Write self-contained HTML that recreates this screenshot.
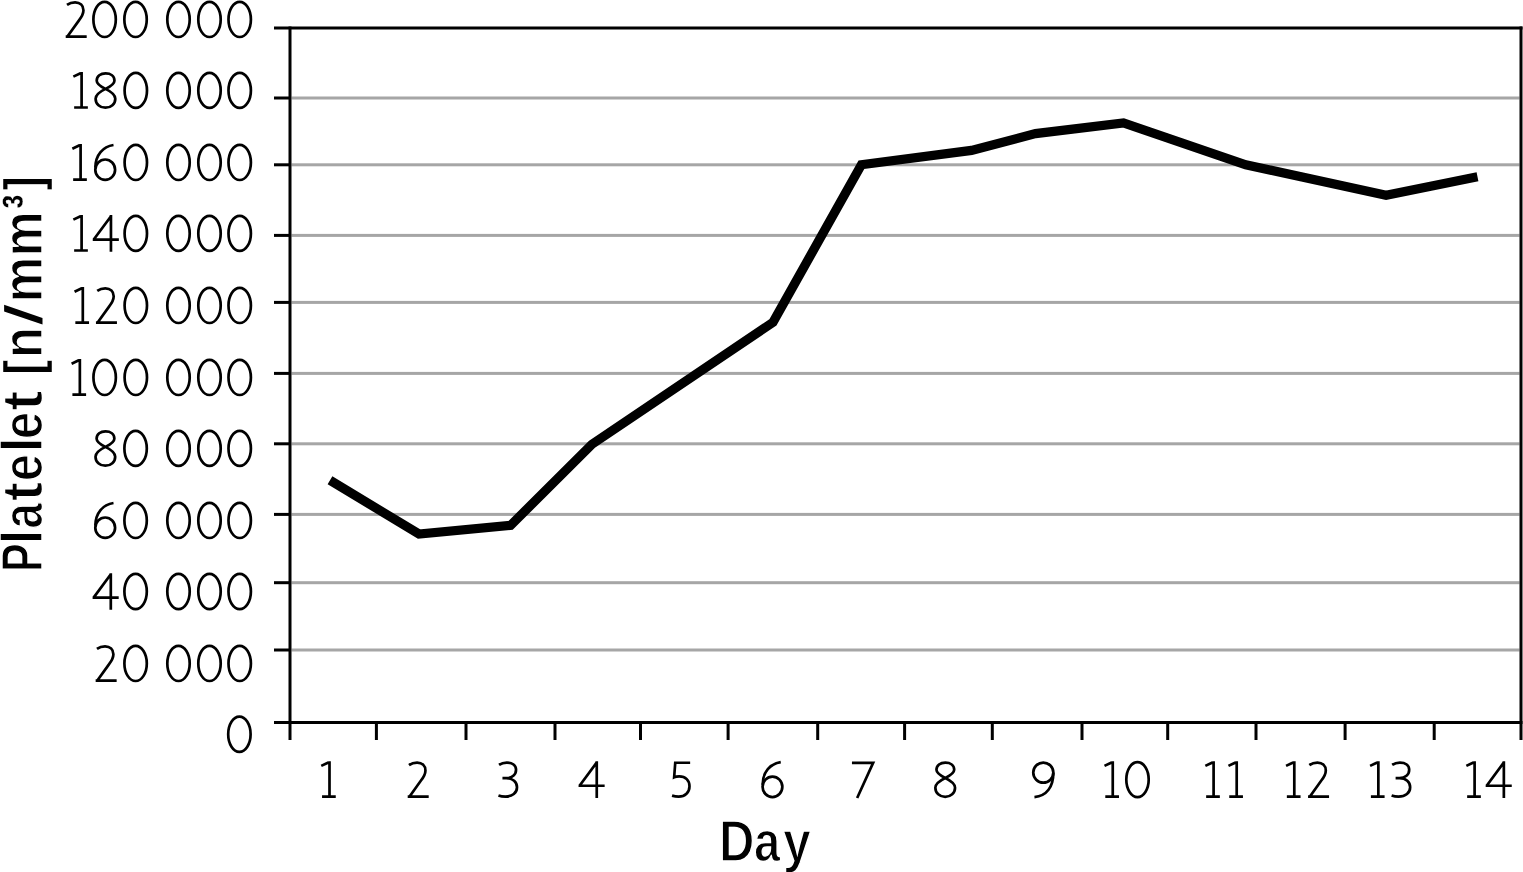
<!DOCTYPE html>
<html><head><meta charset="utf-8"><title>Platelet chart</title>
<style>html,body{margin:0;padding:0;background:#fff;width:1523px;height:872px;overflow:hidden}svg{display:block}</style>
</head><body>
<svg width="1523" height="872" viewBox="0 0 1523 872">
<rect x="291.5" y="96.50" width="1228" height="3.0" fill="#a6a6a6"/>
<rect x="291.5" y="163.30" width="1228" height="3.0" fill="#a6a6a6"/>
<rect x="291.5" y="233.90" width="1228" height="3.0" fill="#a6a6a6"/>
<rect x="291.5" y="300.90" width="1228" height="3.0" fill="#a6a6a6"/>
<rect x="291.5" y="371.90" width="1228" height="3.0" fill="#a6a6a6"/>
<rect x="291.5" y="442.30" width="1228" height="3.0" fill="#a6a6a6"/>
<rect x="291.5" y="512.90" width="1228" height="3.0" fill="#a6a6a6"/>
<rect x="291.5" y="581.20" width="1228" height="3.0" fill="#a6a6a6"/>
<rect x="291.5" y="648.50" width="1228" height="3.0" fill="#a6a6a6"/>
<rect x="274" y="26.5" width="1248.5" height="3" fill="#000"/>
<rect x="274" y="721.0" width="1248.5" height="3" fill="#000"/>
<rect x="288.5" y="26.5" width="3" height="713.5" fill="#000"/>
<rect x="1519.5" y="26.5" width="3" height="713.5" fill="#000"/>
<rect x="274" y="96.50" width="16" height="3" fill="#000"/>
<rect x="274" y="163.30" width="16" height="3" fill="#000"/>
<rect x="274" y="233.90" width="16" height="3" fill="#000"/>
<rect x="274" y="300.90" width="16" height="3" fill="#000"/>
<rect x="274" y="371.90" width="16" height="3" fill="#000"/>
<rect x="274" y="442.30" width="16" height="3" fill="#000"/>
<rect x="274" y="512.90" width="16" height="3" fill="#000"/>
<rect x="274" y="581.20" width="16" height="3" fill="#000"/>
<rect x="274" y="648.50" width="16" height="3" fill="#000"/>
<rect x="374.90" y="722.5" width="3" height="17.5" fill="#000"/>
<rect x="464.50" y="722.5" width="3" height="17.5" fill="#000"/>
<rect x="553.50" y="722.5" width="3" height="17.5" fill="#000"/>
<rect x="639.00" y="722.5" width="3" height="17.5" fill="#000"/>
<rect x="726.60" y="722.5" width="3" height="17.5" fill="#000"/>
<rect x="816.20" y="722.5" width="3" height="17.5" fill="#000"/>
<rect x="903.10" y="722.5" width="3" height="17.5" fill="#000"/>
<rect x="990.80" y="722.5" width="3" height="17.5" fill="#000"/>
<rect x="1080.50" y="722.5" width="3" height="17.5" fill="#000"/>
<rect x="1166.20" y="722.5" width="3" height="17.5" fill="#000"/>
<rect x="1254.50" y="722.5" width="3" height="17.5" fill="#000"/>
<rect x="1343.60" y="722.5" width="3" height="17.5" fill="#000"/>
<rect x="1432.70" y="722.5" width="3" height="17.5" fill="#000"/>
<path d="M330.00,480.30 L419.00,534.00 L510.65,525.30 L592.00,444.30 L773.00,322.30 L861.40,164.65 L971.50,150.40 L1035.50,133.60 L1123.50,122.90 L1245.80,164.80 L1386.10,195.30 L1477.50,176.70" fill="none" stroke="#000" stroke-width="9.2" stroke-linejoin="miter" stroke-linecap="butt"/>
<g fill="none" stroke="#000" stroke-width="2.7" stroke-linecap="butt">
<g transform="translate(57.80,-4.90)"><path d="M9.2,9.8 C11.6,8.1 14.5,7.3 17.3,7.3 C22.3,7.3 25.65,10.5 25.65,15.2 C25.65,19.0 23.8,22.0 21.0,25.5 L9.6,41.45 M7.9,41.45 H28.9"/></g>
<g transform="translate(89.95,-4.90)"><ellipse cx="14.65" cy="24.35" rx="11.2" ry="17.55"/></g>
<g transform="translate(120.90,-4.90)"><ellipse cx="14.65" cy="24.35" rx="11.2" ry="17.55"/></g>
<g transform="translate(163.85,-4.90)"><ellipse cx="14.65" cy="24.35" rx="11.2" ry="17.55"/></g>
<g transform="translate(194.85,-4.90)"><ellipse cx="14.65" cy="24.35" rx="11.2" ry="17.55"/></g>
<g transform="translate(225.05,-4.90)"><ellipse cx="14.65" cy="24.35" rx="11.2" ry="17.55"/></g>
<g transform="translate(66.95,66.05)"><path d="M14.65,6.0 V42.7 M7.2,41.45 H20.9 M13.6,7.2 L6.4,10.6"/></g>
<g transform="translate(84.80,66.05)"><path d="M20.7,22.8 C14.2,19.6 11.9,17.6 11.9,14.6 C11.9,10.1 15.8,7.3 20.8,7.3 C25.8,7.3 29.65,10.1 29.65,14.6 C29.65,17.6 27.3,19.6 20.7,22.8 C14.1,26.0 10.8,28.6 10.8,32.6 C10.8,37.9 15.2,41.65 20.65,41.65 C26.1,41.65 30.5,37.9 30.5,32.6 C30.5,28.6 27.3,26.0 20.7,22.8 Z"/></g>
<g transform="translate(121.15,66.05)"><ellipse cx="14.65" cy="24.35" rx="11.2" ry="17.55"/></g>
<g transform="translate(163.85,66.05)"><ellipse cx="14.65" cy="24.35" rx="11.2" ry="17.55"/></g>
<g transform="translate(194.85,66.05)"><ellipse cx="14.65" cy="24.35" rx="11.2" ry="17.55"/></g>
<g transform="translate(225.05,66.05)"><ellipse cx="14.65" cy="24.35" rx="11.2" ry="17.55"/></g>
<g transform="translate(65.95,138.10)"><path d="M14.65,6.0 V42.7 M7.2,41.45 H20.9 M13.6,7.2 L6.4,10.6"/></g>
<g transform="translate(84.60,138.10)"><path d="M28.9,6.9 C18.5,8.5 10.8,16.5 10.8,29.5"/><ellipse cx="20.6" cy="31.6" rx="9.9" ry="10.2"/></g>
<g transform="translate(121.15,138.10)"><ellipse cx="14.65" cy="24.35" rx="11.2" ry="17.55"/></g>
<g transform="translate(163.85,138.10)"><ellipse cx="14.65" cy="24.35" rx="11.2" ry="17.55"/></g>
<g transform="translate(194.85,138.10)"><ellipse cx="14.65" cy="24.35" rx="11.2" ry="17.55"/></g>
<g transform="translate(225.05,138.10)"><ellipse cx="14.65" cy="24.35" rx="11.2" ry="17.55"/></g>
<g transform="translate(66.95,209.05)"><path d="M14.65,6.0 V42.7 M7.2,41.45 H20.9 M13.6,7.2 L6.4,10.6"/></g>
<g transform="translate(85.85,209.05)"><path d="M25.1,42.7 V6.0 M25.3,6.9 L7.9,30.5 M6.9,30.5 H33.0"/></g>
<g transform="translate(121.15,209.05)"><ellipse cx="14.65" cy="24.35" rx="11.2" ry="17.55"/></g>
<g transform="translate(163.85,209.05)"><ellipse cx="14.65" cy="24.35" rx="11.2" ry="17.55"/></g>
<g transform="translate(194.85,209.05)"><ellipse cx="14.65" cy="24.35" rx="11.2" ry="17.55"/></g>
<g transform="translate(225.05,209.05)"><ellipse cx="14.65" cy="24.35" rx="11.2" ry="17.55"/></g>
<g transform="translate(68.15,281.10)"><path d="M14.65,6.0 V42.7 M7.2,41.45 H20.9 M13.6,7.2 L6.4,10.6"/></g>
<g transform="translate(88.05,281.10)"><path d="M9.2,9.8 C11.6,8.1 14.5,7.3 17.3,7.3 C22.3,7.3 25.65,10.5 25.65,15.2 C25.65,19.0 23.8,22.0 21.0,25.5 L9.6,41.45 M7.9,41.45 H28.9"/></g>
<g transform="translate(121.15,281.10)"><ellipse cx="14.65" cy="24.35" rx="11.2" ry="17.55"/></g>
<g transform="translate(163.85,281.10)"><ellipse cx="14.65" cy="24.35" rx="11.2" ry="17.55"/></g>
<g transform="translate(194.85,281.10)"><ellipse cx="14.65" cy="24.35" rx="11.2" ry="17.55"/></g>
<g transform="translate(225.05,281.10)"><ellipse cx="14.65" cy="24.35" rx="11.2" ry="17.55"/></g>
<g transform="translate(65.20,353.10)"><path d="M14.65,6.0 V42.7 M7.2,41.45 H20.9 M13.6,7.2 L6.4,10.6"/></g>
<g transform="translate(90.00,353.10)"><ellipse cx="14.65" cy="24.35" rx="11.2" ry="17.55"/></g>
<g transform="translate(121.15,353.10)"><ellipse cx="14.65" cy="24.35" rx="11.2" ry="17.55"/></g>
<g transform="translate(163.85,353.10)"><ellipse cx="14.65" cy="24.35" rx="11.2" ry="17.55"/></g>
<g transform="translate(194.85,353.10)"><ellipse cx="14.65" cy="24.35" rx="11.2" ry="17.55"/></g>
<g transform="translate(225.05,353.10)"><ellipse cx="14.65" cy="24.35" rx="11.2" ry="17.55"/></g>
<g transform="translate(84.70,424.05)"><path d="M20.7,22.8 C14.2,19.6 11.9,17.6 11.9,14.6 C11.9,10.1 15.8,7.3 20.8,7.3 C25.8,7.3 29.65,10.1 29.65,14.6 C29.65,17.6 27.3,19.6 20.7,22.8 C14.1,26.0 10.8,28.6 10.8,32.6 C10.8,37.9 15.2,41.65 20.65,41.65 C26.1,41.65 30.5,37.9 30.5,32.6 C30.5,28.6 27.3,26.0 20.7,22.8 Z"/></g>
<g transform="translate(120.95,424.05)"><ellipse cx="14.65" cy="24.35" rx="11.2" ry="17.55"/></g>
<g transform="translate(163.85,424.05)"><ellipse cx="14.65" cy="24.35" rx="11.2" ry="17.55"/></g>
<g transform="translate(194.85,424.05)"><ellipse cx="14.65" cy="24.35" rx="11.2" ry="17.55"/></g>
<g transform="translate(225.05,424.05)"><ellipse cx="14.65" cy="24.35" rx="11.2" ry="17.55"/></g>
<g transform="translate(84.60,496.10)"><path d="M28.9,6.9 C18.5,8.5 10.8,16.5 10.8,29.5"/><ellipse cx="20.6" cy="31.6" rx="9.9" ry="10.2"/></g>
<g transform="translate(120.95,496.10)"><ellipse cx="14.65" cy="24.35" rx="11.2" ry="17.55"/></g>
<g transform="translate(163.85,496.10)"><ellipse cx="14.65" cy="24.35" rx="11.2" ry="17.55"/></g>
<g transform="translate(194.85,496.10)"><ellipse cx="14.65" cy="24.35" rx="11.2" ry="17.55"/></g>
<g transform="translate(225.05,496.10)"><ellipse cx="14.65" cy="24.35" rx="11.2" ry="17.55"/></g>
<g transform="translate(85.70,567.15)"><path d="M25.1,42.7 V6.0 M25.3,6.9 L7.9,30.5 M6.9,30.5 H33.0"/></g>
<g transform="translate(120.95,567.15)"><ellipse cx="14.65" cy="24.35" rx="11.2" ry="17.55"/></g>
<g transform="translate(163.85,567.15)"><ellipse cx="14.65" cy="24.35" rx="11.2" ry="17.55"/></g>
<g transform="translate(194.85,567.15)"><ellipse cx="14.65" cy="24.35" rx="11.2" ry="17.55"/></g>
<g transform="translate(225.05,567.15)"><ellipse cx="14.65" cy="24.35" rx="11.2" ry="17.55"/></g>
<g transform="translate(87.75,639.10)"><path d="M9.2,9.8 C11.6,8.1 14.5,7.3 17.3,7.3 C22.3,7.3 25.65,10.5 25.65,15.2 C25.65,19.0 23.8,22.0 21.0,25.5 L9.6,41.45 M7.9,41.45 H28.9"/></g>
<g transform="translate(120.95,639.10)"><ellipse cx="14.65" cy="24.35" rx="11.2" ry="17.55"/></g>
<g transform="translate(163.85,639.10)"><ellipse cx="14.65" cy="24.35" rx="11.2" ry="17.55"/></g>
<g transform="translate(194.85,639.10)"><ellipse cx="14.65" cy="24.35" rx="11.2" ry="17.55"/></g>
<g transform="translate(225.05,639.10)"><ellipse cx="14.65" cy="24.35" rx="11.2" ry="17.55"/></g>
<g transform="translate(224.75,709.90)"><ellipse cx="14.65" cy="24.35" rx="11.2" ry="17.55"/></g>
<g transform="translate(314.85,755.25)"><path d="M14.65,6.0 V42.7 M7.2,41.45 H20.9 M13.6,7.2 L6.4,10.6"/></g>
<g transform="translate(399.80,755.25)"><path d="M9.2,9.8 C11.6,8.1 14.5,7.3 17.3,7.3 C22.3,7.3 25.65,10.5 25.65,15.2 C25.65,19.0 23.8,22.0 21.0,25.5 L9.6,41.45 M7.9,41.45 H28.9"/></g>
<g transform="translate(487.85,755.25)"><path d="M11.2,9.6 C13.5,8.0 16.2,7.3 18.9,7.3 C24.5,7.3 28.2,10.2 28.2,14.6 C28.2,19.5 24.2,22.9 18.5,22.9 H14.6 M18.5,22.9 C25.0,22.9 29.15,26.8 29.15,32.0 C29.15,37.6 24.5,41.4 17.5,41.4 C15.0,41.4 12.6,41.0 10.6,40.3"/></g>
<g transform="translate(571.65,755.25)"><path d="M25.1,42.7 V6.0 M25.3,6.9 L7.9,30.5 M6.9,30.5 H33.0"/></g>
<g transform="translate(660.65,755.25)"><path d="M29.5,7.5 H14.6 L13.5,22.0 C15.1,21.3 16.6,21.1 18.6,21.1 C24.9,21.1 28.85,25.2 28.85,31.0 C28.85,37.2 24.4,41.4 18.0,41.4 C15.6,41.4 13.4,41.0 11.4,40.4" stroke-linejoin="miter"/></g>
<g transform="translate(751.85,755.25)"><path d="M28.9,6.9 C18.5,8.5 10.8,16.5 10.8,29.5"/><ellipse cx="20.6" cy="31.6" rx="9.9" ry="10.2"/></g>
<g transform="translate(842.75,755.25)"><path d="M9.2,7.6 H30.4 L14.4,42.7" stroke-linejoin="miter"/></g>
<g transform="translate(924.55,755.25)"><path d="M20.7,22.8 C14.2,19.6 11.9,17.6 11.9,14.6 C11.9,10.1 15.8,7.3 20.8,7.3 C25.8,7.3 29.65,10.1 29.65,14.6 C29.65,17.6 27.3,19.6 20.7,22.8 C14.1,26.0 10.8,28.6 10.8,32.6 C10.8,37.9 15.2,41.65 20.65,41.65 C26.1,41.65 30.5,37.9 30.5,32.6 C30.5,28.6 27.3,26.0 20.7,22.8 Z"/></g>
<g transform="translate(1023.25,755.25)"><ellipse cx="20.05" cy="17.35" rx="10.05" ry="10.05"/><path d="M30.1,17.5 C30.1,31.5 23.5,40.8 11.2,41.8"/></g>
<g transform="translate(1098.10,755.25)"><path d="M14.65,6.0 V42.7 M7.2,41.45 H20.9 M13.6,7.2 L6.4,10.6"/></g>
<g transform="translate(1122.85,755.25)"><ellipse cx="14.65" cy="24.35" rx="11.2" ry="17.55"/></g>
<g transform="translate(1198.95,755.25)"><path d="M14.65,6.0 V42.7 M7.2,41.45 H20.9 M13.6,7.2 L6.4,10.6"/></g>
<g transform="translate(1222.05,755.25)"><path d="M14.65,6.0 V42.7 M7.2,41.45 H20.9 M13.6,7.2 L6.4,10.6"/></g>
<g transform="translate(1279.65,755.25)"><path d="M14.65,6.0 V42.7 M7.2,41.45 H20.9 M13.6,7.2 L6.4,10.6"/></g>
<g transform="translate(1300.15,755.25)"><path d="M9.2,9.8 C11.6,8.1 14.5,7.3 17.3,7.3 C22.3,7.3 25.65,10.5 25.65,15.2 C25.65,19.0 23.8,22.0 21.0,25.5 L9.6,41.45 M7.9,41.45 H28.9"/></g>
<g transform="translate(1363.70,755.25)"><path d="M14.65,6.0 V42.7 M7.2,41.45 H20.9 M13.6,7.2 L6.4,10.6"/></g>
<g transform="translate(1381.00,755.25)"><path d="M11.2,9.6 C13.5,8.0 16.2,7.3 18.9,7.3 C24.5,7.3 28.2,10.2 28.2,14.6 C28.2,19.5 24.2,22.9 18.5,22.9 H14.6 M18.5,22.9 C25.0,22.9 29.15,26.8 29.15,32.0 C29.15,37.6 24.5,41.4 17.5,41.4 C15.0,41.4 12.6,41.0 10.6,40.3"/></g>
<g transform="translate(1459.95,755.25)"><path d="M14.65,6.0 V42.7 M7.2,41.45 H20.9 M13.6,7.2 L6.4,10.6"/></g>
<g transform="translate(1478.75,755.25)"><path d="M25.1,42.7 V6.0 M25.3,6.9 L7.9,30.5 M6.9,30.5 H33.0"/></g>
</g>
<g opacity="0.999" style="font-family:'Liberation Sans',sans-serif;font-weight:bold;font-size:56.5px" fill="#000" stroke="#fff" stroke-width="1.4">
<text transform="translate(42.30,557.00) rotate(-90) scale(0.765,1)" x="-19.77" y="0">P</text>
<text transform="translate(42.30,537.05) rotate(-90) scale(0.945,1)" x="-7.82" y="0">l</text>
<text transform="translate(42.30,515.00) rotate(-90) scale(0.815,1)" x="-16.72" y="0">a</text>
<text transform="translate(42.30,491.65) rotate(-90) scale(1.029,1)" x="-9.41" y="0">t</text>
<text transform="translate(42.30,467.30) rotate(-90) scale(0.873,1)" x="-15.85" y="0">e</text>
<text transform="translate(42.30,444.95) rotate(-90) scale(0.976,1)" x="-7.82" y="0">l</text>
<text transform="translate(42.30,425.35) rotate(-90) scale(0.877,1)" x="-15.85" y="0">e</text>
<text transform="translate(42.30,400.60) rotate(-90) scale(1.073,1)" x="-9.41" y="0">t</text>
<text transform="translate(41.10,366.50) rotate(-90) scale(0.756,0.915)" x="-10.65" y="0" stroke-width="0.4">[</text>
<text transform="translate(42.30,342.50) rotate(-90) scale(0.904,1)" x="-17.37" y="0">n</text>
<text transform="translate(42.30,279.55) rotate(-90) scale(0.911,1)" x="-25.23" y="0">m</text>
<text transform="translate(42.30,233.70) rotate(-90) scale(0.899,1)" x="-25.23" y="0">m</text>
<text transform="translate(42.30,201.65) rotate(-90) scale(0.744,1)" x="-9.41" y="0" stroke-width="0.4">³</text>
<text transform="translate(41.10,184.45) rotate(-90) scale(0.721,0.915)" x="-8.17" y="0" stroke-width="0.4">]</text>
<path d="M4.1,304.7 L42.5,317.9 L42.5,324.6 L4.1,311.4 Z" fill="#000" stroke="none"/>
<text transform="translate(737.35,860.50) scale(0.869,1)" x="-21.11" y="0">D</text>
<text transform="translate(768.00,860.50) scale(0.835,1)" x="-16.72" y="0">a</text>
<text transform="translate(796.90,860.50) scale(0.888,1)" x="-15.78" y="0">y</text>
</g>
</svg>
</body></html>
